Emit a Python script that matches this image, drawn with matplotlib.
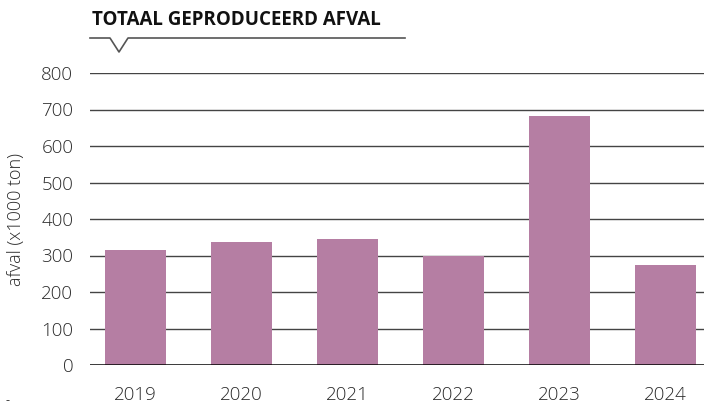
import matplotlib
matplotlib.use("Agg")
import matplotlib.pyplot as plt
from matplotlib.lines import Line2D

years = ["2019", "2020", "2021", "2022", "2023", "2024"]
values = [315, 337, 345, 299, 682, 274]
yticks = [0, 100, 200, 300, 400, 500, 600, 700, 800]

plt.rcParams['font.family'] = ['Open Sans', 'DejaVu Sans']

W, H = 704, 407
fig = plt.figure(figsize=(W / 100, H / 100), dpi=100)
ax = fig.add_axes([90 / W, 1 - 365 / H, (704 - 90) / W, (365 - 73) / H])

x = list(range(len(years)))
ax.bar(x, values, width=0.575, color="#b57ea3", zorder=3)
ax.set_xlim(-0.429, 5.36)
ax.set_ylim(0, 800)
ax.set_yticks(yticks)
ax.set_yticklabels([str(v) for v in yticks], fontsize=13.5, color="#2a2a2a",
                   fontweight="light")
ax.set_xticks(x)
ax.set_xticklabels(years, fontsize=13.5, color="#2a2a2a", fontweight="light")
ax.tick_params(axis="both", length=0)
ax.tick_params(axis="y", pad=12)
ax.tick_params(axis="x", pad=15)
for s in ax.spines.values():
    s.set_visible(False)
for v in yticks[1:]:
    ax.axhline(v, color="#444444", lw=1, zorder=1)
ax.axhline(0, color="#000000", lw=1.8, zorder=4)
ax.set_ylabel("afval (x1000 ton)", fontsize=13, color="#2a2a2a", fontweight="light")
ax.yaxis.set_label_coords(-0.106, 0.5)

fig.text(92 / W, 1 - 20 / H, "TOTAAL GEPRODUCEERD AFVAL", fontsize=13.5,
         fontweight="bold", va="center", ha="left", color="#111111")
xs = [90, 110, 119, 128, 405]
ys = [38, 38, 52, 38, 38]
fig.add_artist(Line2D([a / W for a in xs], [1 - b / H for b in ys],
                      color="#555555", lw=1.2))
fig.text(5 / W, 1 - 401 / H, "-", fontsize=9, color="#333333", va="center")

fig.savefig("out.png", dpi=100)
